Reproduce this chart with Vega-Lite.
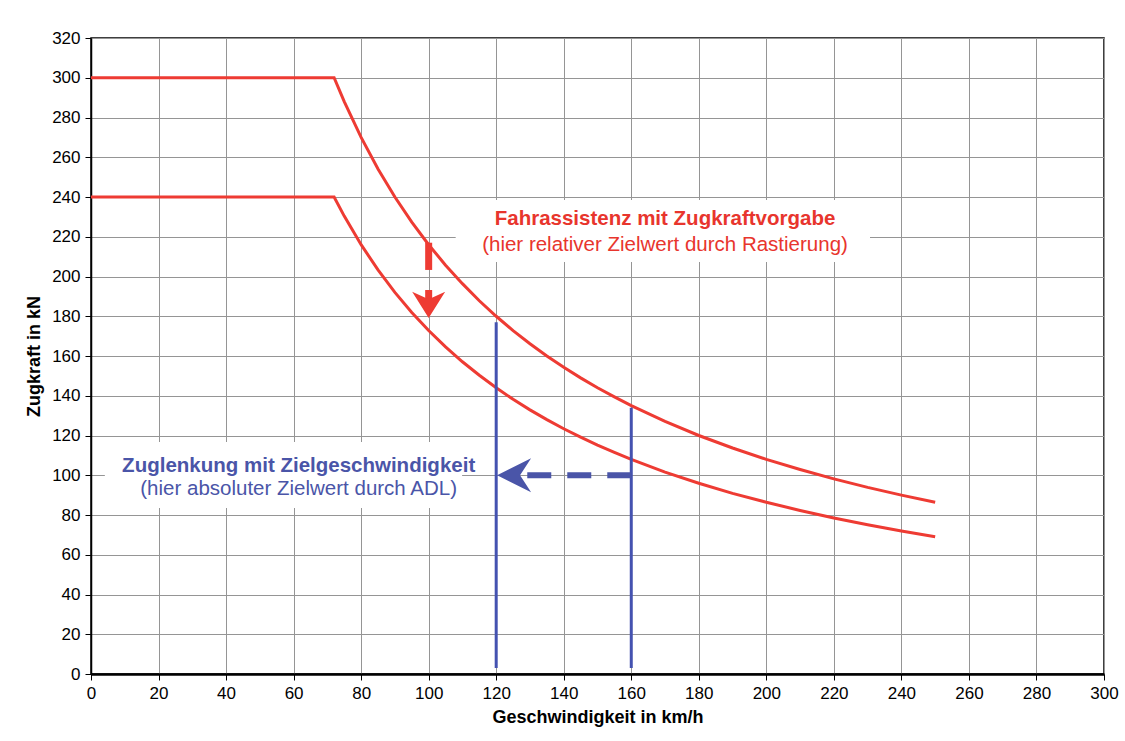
{
  "$schema": "https://vega.github.io/schema/vega-lite/v6.json",
  "autosize": "none",
  "width": 1013,
  "height": 636,
  "padding": {"left": 91, "top": 38, "right": 21, "bottom": 67},
  "background": "white",
  "config": {
    "font": "Liberation Sans",
    "view": {"stroke": "black", "strokeWidth": 1.5},
    "axis": {
      "labelFont": "Liberation Sans", "labelFontSize": 17, "labelColor": "black", "labelOverlap": false, "labelFlush": false, "labelPadding": 5,
      "titleFont": "Liberation Sans", "titleFontSize": 18, "titleFontWeight": "bold", "titleColor": "black",
      "gridColor": "#959595", "gridWidth": 1, "gridOpacity": 1,
      "domainColor": "black", "domainWidth": 1.5, "tickColor": "black", "tickSize": 6
    }
  },
  "datasets": {
    "curves": [
      {"x": 0, "y": 300, "s": "a"}, {"x": 72, "y": 300, "s": "a"}, {"x": 75, "y": 288, "s": "a"}, {"x": 80, "y": 270, "s": "a"}, {"x": 85, "y": 254.1, "s": "a"}, {"x": 90, "y": 240, "s": "a"},
      {"x": 95, "y": 227.4, "s": "a"}, {"x": 100, "y": 216, "s": "a"}, {"x": 105, "y": 205.7, "s": "a"}, {"x": 110, "y": 196.4, "s": "a"}, {"x": 115, "y": 187.8, "s": "a"}, {"x": 120, "y": 180, "s": "a"}, {"x": 125, "y": 172.8, "s": "a"}, {"x": 130, "y": 166.2, "s": "a"},
      {"x": 135, "y": 160, "s": "a"}, {"x": 140, "y": 154.3, "s": "a"}, {"x": 145, "y": 149, "s": "a"}, {"x": 150, "y": 144, "s": "a"}, {"x": 155, "y": 139.4, "s": "a"}, {"x": 160, "y": 135, "s": "a"}, {"x": 170, "y": 127.1, "s": "a"},
      {"x": 180, "y": 120, "s": "a"}, {"x": 190, "y": 113.7, "s": "a"}, {"x": 200, "y": 108, "s": "a"}, {"x": 210, "y": 102.9, "s": "a"},
      {"x": 220, "y": 98.2, "s": "a"}, {"x": 230, "y": 93.9, "s": "a"}, {"x": 240, "y": 90, "s": "a"}, {"x": 250, "y": 86.4, "s": "a"},
      {"x": 0, "y": 240, "s": "b"}, {"x": 72, "y": 240, "s": "b"}, {"x": 75, "y": 230.4, "s": "b"}, {"x": 80, "y": 216, "s": "b"}, {"x": 85, "y": 203.3, "s": "b"}, {"x": 90, "y": 192, "s": "b"},
      {"x": 95, "y": 181.9, "s": "b"}, {"x": 100, "y": 172.8, "s": "b"}, {"x": 105, "y": 164.6, "s": "b"}, {"x": 110, "y": 157.1, "s": "b"}, {"x": 115, "y": 150.3, "s": "b"}, {"x": 120, "y": 144, "s": "b"}, {"x": 125, "y": 138.2, "s": "b"}, {"x": 130, "y": 132.9, "s": "b"},
      {"x": 135, "y": 128, "s": "b"}, {"x": 140, "y": 123.4, "s": "b"}, {"x": 145, "y": 119.2, "s": "b"}, {"x": 150, "y": 115.2, "s": "b"}, {"x": 155, "y": 111.5, "s": "b"}, {"x": 160, "y": 108, "s": "b"}, {"x": 170, "y": 101.6, "s": "b"},
      {"x": 180, "y": 96, "s": "b"}, {"x": 190, "y": 90.9, "s": "b"}, {"x": 200, "y": 86.4, "s": "b"}, {"x": 210, "y": 82.3, "s": "b"},
      {"x": 220, "y": 78.5, "s": "b"}, {"x": 230, "y": 75.1, "s": "b"}, {"x": 240, "y": 72, "s": "b"}, {"x": 250, "y": 69.1, "s": "b"}
    ],
    "boxes": [
      {"x": 108, "x2": 230.7, "y": 207.3, "y2": 238.5},
      {"x": 4.1, "x2": 109.9, "y": 83.5, "y2": 116.7}
    ],
    "vlines": [
      {"x": 120, "y": 3, "y2": 177},
      {"x": 160, "y": 3, "y2": 134}
    ],
    "reddash": [
      {"x": 100, "y": 203.3, "y2": 217},
      {"x": 100, "y": 186, "y2": 193.2}
    ],
    "bluedash": [
      {"y": 100, "x": 160, "x2": 126}
    ],
    "redhead": [{"x": 100, "y": 185.7}],
    "bluehead": [{"x": 125.3, "y": 100}],
    "boldlabels": [
      {"x": 170, "y": 228.8, "t": "Fahrassistenz mit Zugkraftvorgabe", "g": "red"},
      {"x": 61.5, "y": 104.7, "t": "Zuglenkung mit Zielgeschwindigkeit", "g": "blue"}
    ],
    "plainlabels": [
      {"x": 170, "y": 215.6, "t": "(hier relativer Zielwert durch Rastierung)", "g": "red"},
      {"x": 61.5, "y": 93.2, "t": "(hier absoluter Zielwert durch ADL)", "g": "blue"}
    ]
  },
  "encoding": {
    "x": {"field": "x", "type": "quantitative", "scale": {"domain": [0, 300], "nice": false},
          "axis": {"values": [0,20,40,60,80,100,120,140,160,180,200,220,240,260,280,300], "title": "Geschwindigkeit in km/h",
                   "labelFontSize": 17, "labelOverlap": false, "labelFlush": false, "titleFontSize": 18, "titlePadding": 7, "domainWidth": 2.5}},
    "y": {"field": "y", "type": "quantitative", "scale": {"domain": [0, 320], "nice": false},
          "axis": {"values": [0,20,40,60,80,100,120,140,160,180,200,220,240,260,280,300,320], "title": "Zugkraft in kN",
                   "labelFontSize": 17, "labelOverlap": false, "labelFlush": false, "titleFontSize": 18, "titlePadding": 8}}
  },
  "layer": [
    {
      "data": {"name": "curves"},
      "mark": {"type": "line", "color": "#ee3b33", "strokeWidth": 3, "interpolate": "linear"},
      "encoding": {"detail": {"field": "s"}}
    },
    {
      "data": {"name": "boxes"},
      "mark": {"type": "rect", "color": "white"},
      "encoding": {"x2": {"field": "x2"}, "y2": {"field": "y2"}}
    },
    {
      "data": {"name": "vlines"},
      "mark": {"type": "rule", "color": "#4452b0", "strokeWidth": 3},
      "encoding": {"y2": {"field": "y2"}}
    },
    {
      "data": {"name": "bluedash"},
      "mark": {"type": "rule", "color": "#4a55a8", "strokeWidth": 6, "strokeDash": [24, 16]},
      "encoding": {"x2": {"field": "x2"}}
    },
    {
      "data": {"name": "reddash"},
      "mark": {"type": "rule", "color": "#ee3b33", "strokeWidth": 7},
      "encoding": {"y2": {"field": "y2"}}
    },
    {
      "data": {"name": "redhead"},
      "mark": {"type": "point", "filled": true, "color": "#ee3b33", "opacity": 1, "size": 1089, "shape": "M0,0.8L-1,-0.8L0,-0.35L1,-0.8Z"},
      "encoding": {}
    },
    {
      "data": {"name": "bluehead"},
      "mark": {"type": "point", "filled": true, "color": "#4a55a8", "opacity": 1, "size": 1156, "shape": "M-1,0L1,-1L0.35,0L1,1Z"},
      "encoding": {}
    },
    {
      "data": {"name": "boldlabels"},
      "mark": {"type": "text", "fontSize": 20.5, "fontWeight": "bold", "align": "center", "baseline": "middle", "font": "Liberation Sans"},
      "encoding": {
        "text": {"field": "t"},
        "color": {"field": "g", "type": "nominal", "legend": null,
                  "scale": {"domain": ["red", "blue"], "range": ["#e8352d", "#4a55a8"]}}
      }
    },
    {
      "data": {"name": "plainlabels"},
      "mark": {"type": "text", "fontSize": 20.5, "align": "center", "baseline": "middle", "font": "Liberation Sans"},
      "encoding": {
        "text": {"field": "t"},
        "color": {"field": "g", "type": "nominal", "legend": null,
                  "scale": {"domain": ["red", "blue"], "range": ["#e8352d", "#4a55a8"]}}
      }
    }
  ]
}
